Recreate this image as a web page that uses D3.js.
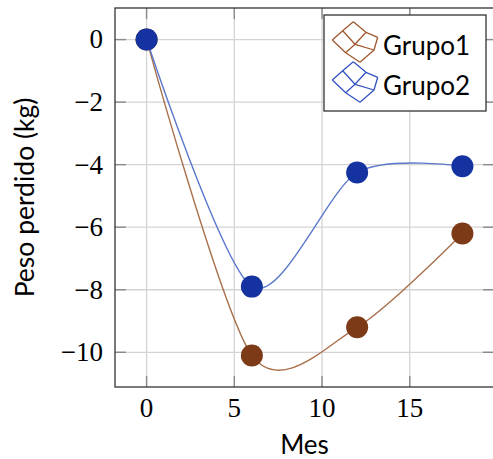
<!DOCTYPE html>
<html>
<head>
<meta charset="utf-8">
<script src="https://cdn.jsdelivr.net/npm/d3@7"></script>
<style>
  body { margin: 0; background: #fff; }
  svg { display: block; }
</style>
</head>
<body>
<svg id="chart"></svg>
<script>
// data
const meses = [0, 6, 12, 18];
const grupo1 = [0, -10.1, -9.2, -6.2];
const grupo2 = [0, -7.9, -4.25, -4.05];
const seriesNames = ["Grupo1", "Grupo2"];
const xTicks = [0, 5, 10, 15];
const yTicks = [0, -2, -4, -6, -8, -10];

const lineColors = ["#a8704c", "#5a78cc"];
const markColors = ["#7c3a17", "#1433a0"];
const iconColors = ["#a0582f", "#3553c2"];

function getChartConfig() {
    let width = 493;
    let height = 459;
    let margin = {left: 115, right: -1, top: 8, bottom: 72};
    let svg = d3.select("#chart")
        .attr("width", width)
        .attr("height", height);
    return {width, height, margin, svg};
}

function getScales(config) {
    // pgfplots style: enlarge limits by 10% of the range
    let xExt = d3.extent(meses);
    let yExt = d3.extent(grupo1.concat(grupo2));
    let dx = (xExt[1] - xExt[0]) * 0.1;
    let dy = (yExt[1] - yExt[0]) * 0.1;
    let x = d3.scaleLinear()
        .domain([xExt[0] - dx, xExt[1] + dx])
        .range([config.margin.left, config.width - config.margin.right]);
    let y = d3.scaleLinear()
        .domain([yExt[0] - dy, yExt[1] + dy])
        .range([config.height - config.margin.bottom, config.margin.top]);
    return {x, y};
}

function drawGrid(svg, x, y) {
    const [x0, x1] = x.range();
    const [y0, y1] = y.range();
    svg.append("g").selectAll("line.gx")
        .data(xTicks)
        .enter()
        .append("line")
        .attr("x1", d => x(d)).attr("x2", d => x(d))
        .attr("y1", y0).attr("y2", y1)
        .attr("stroke", "#d4d4d4")
        .attr("stroke-width", 1.3);
    svg.append("g").selectAll("line.gy")
        .data(yTicks)
        .enter()
        .append("line")
        .attr("x1", x0).attr("x2", x1)
        .attr("y1", d => y(d)).attr("y2", d => y(d))
        .attr("stroke", "#d4d4d4")
        .attr("stroke-width", 1.3);
}

function drawAxes(svg, x, y) {
    const [x0, x1] = x.range();
    const [y0, y1] = y.range();
    const tickLen = 11;
    const ticks = svg.append("g")
        .attr("stroke", "#8a8a8a")
        .attr("stroke-width", 1.4);
    xTicks.forEach(t => {
        ticks.append("line").attr("x1", x(t)).attr("x2", x(t)).attr("y1", y0).attr("y2", y0 - tickLen);
        ticks.append("line").attr("x1", x(t)).attr("x2", x(t)).attr("y1", y1).attr("y2", y1 + tickLen);
    });
    yTicks.forEach(t => {
        ticks.append("line").attr("x1", x0).attr("x2", x0 + tickLen).attr("y1", y(t)).attr("y2", y(t));
        ticks.append("line").attr("x1", x1).attr("x2", x1 - tickLen).attr("y1", y(t)).attr("y2", y(t));
    });

    svg.append("rect")
        .attr("x", x0).attr("y", y1)
        .attr("width", x1 - x0).attr("height", y0 - y1)
        .attr("fill", "none")
        .attr("stroke", "#333")
        .attr("stroke-width", 1.3);

    const fmt = d => d < 0 ? "\u2212" + Math.abs(d) : String(d);
    svg.append("g").selectAll("text")
        .data(xTicks)
        .enter()
        .append("text")
        .attr("x", d => x(d))
        .attr("y", 417)
        .attr("text-anchor", "middle")
        .style("font-family", "'Liberation Serif', serif")
        .style("font-size", "27px")
        .text(fmt);
    svg.append("g").selectAll("text")
        .data(yTicks)
        .enter()
        .append("text")
        .attr("x", 103)
        .attr("y", d => y(d))
        .attr("dy", "0.33em")
        .attr("text-anchor", "end")
        .style("font-family", "'Liberation Serif', serif")
        .style("font-size", "27px")
        .text(fmt);

    svg.append("text")
        .attr("x", (x0 + x1) / 2)
        .attr("y", 454)
        .attr("text-anchor", "middle")
        .style("font-family", "Lato, sans-serif")
        .style("font-size", "26px")
        .text("Mes");
    svg.append("text")
        .attr("transform", `translate(34,${(y0 + y1) / 2}) rotate(-90)`)
        .attr("text-anchor", "middle")
        .style("font-family", "Lato, sans-serif")
        .style("font-size", "26.5px")
        .text("Peso perdido (kg)");
}

function drawSeries(svg, x, y) {
    const line = d3.line()
        .x(d => x(d[0]))
        .y(d => y(d[1]))
        .curve(d3.curveCardinal.tension(0.17));
    [grupo1, grupo2].forEach((vals, i) => {
        const pts = meses.map((m, j) => [m, vals[j]]);
        svg.append("path")
            .datum(pts)
            .attr("d", line)
            .attr("fill", "none")
            .attr("stroke", lineColors[i])
            .attr("stroke-width", 1.4);
        svg.append("g").selectAll("circle")
            .data(pts)
            .enter()
            .append("circle")
            .attr("r", 11)
            .attr("cx", d => x(d[0]))
            .attr("cy", d => y(d[1]))
            .attr("fill", markColors[i]);
    });
}

function drawLegend(svg) {
    const left = 324, top = 15, right = 486, bottom = 111;
    svg.append("rect")
        .attr("x", left).attr("y", top)
        .attr("width", right - left).attr("height", bottom - top)
        .attr("fill", "#fff")
        .attr("stroke", "#333")
        .attr("stroke-width", 1.3);
    // distorted 3x3 patch grid used by the legend image
    const grid = [
        [[-1.7, -22.3], [11, -11.7], [22.7, -6.7]],
        [[-12.3, -13.3], [0, 0.3], [19, 6]],
        [[-22.7, -4], [-9.3, 8.7], [5, 18.3]]
    ];
    seriesNames.forEach((name, i) => {
        const cx = 355, cy = 44 + i * 40;
        const g = svg.append("g")
            .attr("transform", `translate(${cx},${cy})`)
            .attr("fill", "none")
            .attr("stroke", iconColors[i])
            .attr("stroke-width", 1.3)
            .attr("stroke-linejoin", "round");
        const ln = d3.line();
        grid.forEach(row => g.append("path").attr("d", ln(row)));
        [0, 1, 2].forEach(c => g.append("path").attr("d", ln(grid.map(r => r[c]))));
        svg.append("text")
            .attr("x", 383)
            .attr("y", 55 + i * 40)
            .style("font-family", "Lato, sans-serif")
            .style("font-size", "26px")
            .text(name);
    });
}

function drawChart() {
    const config = getChartConfig();
    const {x, y} = getScales(config);
    drawGrid(config.svg, x, y);
    drawAxes(config.svg, x, y);
    drawSeries(config.svg, x, y);
    drawLegend(config.svg);
}

drawChart();
</script>
</body>
</html>
